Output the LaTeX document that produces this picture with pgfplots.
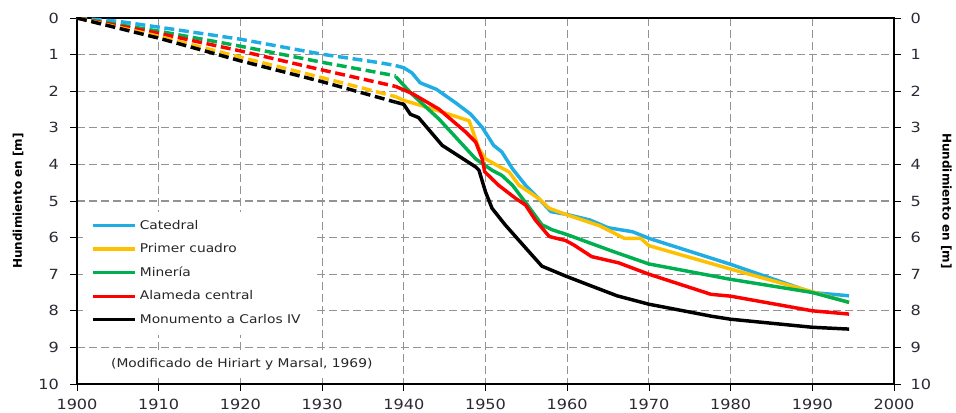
\documentclass[border=0pt]{standalone}
\usepackage{fontspec}
\setmainfont{DejaVu Sans}[FakeStretch=1.15]
\newfontfamily\labfont{DejaVu Sans}
\usepackage{pgfplots}
\pgfplotsset{compat=1.18}
\definecolor{cCat}{HTML}{1FADE4}
\definecolor{cPri}{HTML}{FFC000}
\definecolor{cMin}{HTML}{00B050}
\definecolor{cAla}{HTML}{FF0000}
\definecolor{cTick}{HTML}{2A2A35}
\pgfplotsset{
  common/.style={
    at={(0,0)}, anchor=south west, scale only axis,
    width=612.75pt, height=274.5pt,
    xmin=1900, xmax=2000, ymin=0, ymax=10, y dir=reverse,
    xtick={1900,1910,...,2000}, ytick={0,1,...,10},
    /pgf/number format/assume math mode=true,
    /pgf/number format/1000 sep={},
    tick align=outside, major tick length=5pt,
    tick style={black, line width=0.6pt},
    ticklabel style={font=\fontsize{10.5}{12}\selectfont, text=cTick},
    axis line style={line width=1.4pt},
  },
  dsh/.style={line width=2.6pt, dash pattern=on 7.5pt off 3.5pt, forget plot},
  sol/.style={line width=2.6pt, line join=round},
}
\begin{document}
\begin{tikzpicture}
\useasboundingbox (-57.75pt,-21.75pt) rectangle (659.25pt,288pt);
\begin{axis}[common,
  xtick pos=bottom, ytick pos=left,
  grid=major,
  major grid style={gray!85, line width=0.8pt, dash pattern=on 6pt off 3pt},
  xticklabel style={yshift=-3pt},
  yticklabel style={xshift=-5pt},
  ylabel={\labfont\bfseries Hundimiento en [m]},
  ylabel style={at={(axis description cs:-0.0722,0.5)}, anchor=center, font=\fontsize{9}{10}\selectfont},
  legend style={at={(axis description cs:0.012,0.463)}, anchor=north west, draw=none, fill=none,
    font=\fontsize{9}{11}\selectfont, row sep=5.2pt, text=black!85},
  legend cell align=left,
  legend image code/.code={\draw[#1] (0pt,0pt) -- (32pt,0pt);},
]
% white boxes behind legend and note (cover the grid)
\fill[white] (axis cs:1900.75,5.30) rectangle (axis cs:1929.3,8.66);
\fill[white] (axis cs:1903.2,9.13) rectangle (axis cs:1938.6,9.81);
% dashed early records
\addplot[dsh, cCat] coordinates {(1900,0) (1905,0.09) (1910,0.25) (1920,0.58) (1930,0.99) (1937,1.22) (1939,1.3)};
\addplot[dsh, cMin] coordinates {(1900,0) (1910,0.36) (1920,0.77) (1930,1.21) (1939,1.58)};
\addplot[dsh, cAla] coordinates {(1900,0) (1910,0.42) (1920,0.9) (1930,1.42) (1939,1.87)};
\addplot[dsh, cPri] coordinates {(1900,0) (1910,0.5) (1920,1.07) (1930,1.63) (1939,2.15)};
\addplot[dsh, black] coordinates {(1900,0) (1910,0.55) (1920,1.17) (1930,1.74) (1939,2.3)};
% solid series
\addplot[sol, cCat] coordinates {(1939,1.3) (1940,1.36) (1941,1.5) (1942,1.77) (1944,1.95) (1946.3,2.31) (1948.2,2.63) (1949.6,2.99) (1951,3.48) (1952,3.66) (1953.3,4.12) (1954.9,4.57) (1956.5,4.93) (1958,5.29) (1960,5.37) (1962.8,5.52) (1965,5.73) (1968,5.84) (1970,6.02) (1980,6.73) (1990,7.5) (1994.5,7.59)};
\addlegendentry{Catedral}
\addplot[sol, cPri] coordinates {(1939,2.15) (1940,2.25) (1944.3,2.54) (1948,2.81) (1949.2,3.57) (1950,3.85) (1952.9,4.21) (1954.1,4.57) (1956.5,4.93) (1957.8,5.2) (1960,5.38) (1964,5.68) (1967,6.02) (1969,6.02) (1970,6.22) (1980,6.86) (1990,7.48) (1994.5,7.77)};
\addlegendentry{Primer cuadro}
\addplot[sol, cMin] coordinates {(1939,1.6) (1941,2.08) (1944.3,2.76) (1948.8,3.85) (1950.8,4.16) (1952,4.3) (1953.3,4.57) (1955.3,5.16) (1956.9,5.65) (1958.2,5.79) (1960,5.92) (1965.5,6.37) (1970,6.72) (1980,7.14) (1990,7.5) (1994.5,7.77)};
\addlegendentry{Minería}
\addplot[sol, cAla] coordinates {(1939,1.87) (1941,2.06) (1944.3,2.49) (1947.6,3.12) (1948.8,3.39) (1949.6,3.85) (1949.9,4.2) (1951.6,4.57) (1953.7,4.93) (1954.9,5.11) (1956.1,5.52) (1957.8,5.97) (1959.8,6.08) (1960.8,6.2) (1963,6.52) (1966.3,6.69) (1970,7.0) (1977.6,7.55) (1980,7.6) (1990,8.0) (1994.5,8.09)};
\addlegendentry{Alameda central}
\addplot[sol, black] coordinates {(1939,2.3) (1940,2.36) (1940.8,2.63) (1941.8,2.72) (1944.7,3.48) (1946.3,3.71) (1948.8,4.07) (1949.2,4.16) (1950,4.75) (1950.8,5.2) (1952.4,5.65) (1954.9,6.28) (1956.9,6.78) (1959.8,7.05) (1962.7,7.3) (1966.1,7.59) (1970,7.82) (1977.7,8.15) (1980,8.23) (1990,8.45) (1994.5,8.5)};
\addlegendentry{Monumento a Carlos IV}
\node[anchor=west, font=\fontsize{9}{10}\selectfont, text=black!85] at (axis cs:1903.6,9.47) {(Modificado de Hiriart y Marsal, 1969)};
\end{axis}
\begin{axis}[common,
  hide x axis, axis y line*=right, ytick pos=right, yticklabel pos=right,
  yticklabel style={xshift=4pt, anchor=west},
  ylabel={\labfont\bfseries Hundimiento en [m]},
  ylabel style={at={(axis description cs:1.064,0.5)}, anchor=center, rotate=180, font=\fontsize{9}{10}\selectfont},
]
\end{axis}
\end{tikzpicture}
\end{document}
